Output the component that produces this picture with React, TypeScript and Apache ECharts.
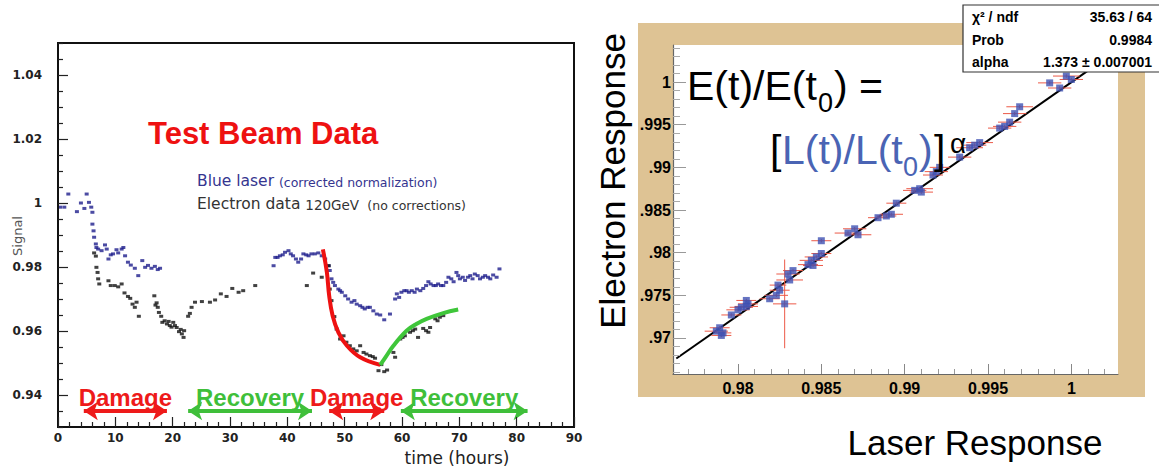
import React, { useEffect, useRef } from "react";
import * as echarts from "echarts";

// ---------- Left chart: test beam data ----------
const blueLaser: [number, number][] = [
  [0.35, 0.9987], [1.1, 0.9987], [1.8, 1.0028], [3.3, 0.9973], [4.0, 1.0], [4.6, 0.9983], [5.0, 1.0028],
  [5.4, 1.0002], [5.8, 0.9987], [6.0, 0.9971], [6.0, 0.9934], [6.2, 0.9913], [6.3, 0.9893], [6.6, 0.9872],
  [6.7, 0.9861], [7.0, 0.9856], [7.6, 0.9851], [8.2, 0.9869], [8.5, 0.9856], [8.8, 0.9825], [9.2, 0.9838],
  [9.6, 0.9841], [10.2, 0.9854], [10.5, 0.9844], [11.1, 0.9856], [11.4, 0.9861], [11.7, 0.9835],
  [12.2, 0.9815], [12.7, 0.9806], [13.4, 0.9796], [14.0, 0.9773], [14.7, 0.982], [15.2, 0.9799],
  [15.7, 0.9805], [16.3, 0.9796], [16.9, 0.9802], [17.4, 0.9792], [17.8, 0.9796],
  [37.6, 0.9804], [37.9, 0.983], [38.3, 0.983], [38.7, 0.9835], [39.2, 0.9838], [39.6, 0.9846],
  [40.2, 0.9851], [40.6, 0.9841], [41.0, 0.9835], [41.5, 0.9825], [41.9, 0.9815], [42.4, 0.9825],
  [42.8, 0.9841], [43.3, 0.9838], [43.7, 0.9835], [44.2, 0.9841], [44.8, 0.9841], [45.4, 0.9844],
  [46.0, 0.9835], [46.6, 0.9825], [47.2, 0.9804], [47.4, 0.9789], [47.7, 0.9763], [48.0, 0.9752],
  [48.3, 0.9742], [48.9, 0.9731], [49.2, 0.9726], [49.5, 0.9721], [50.1, 0.971], [50.6, 0.97],
  [51.2, 0.969], [51.7, 0.9695], [52.1, 0.9684], [52.7, 0.9679], [53.1, 0.9674], [53.5, 0.9669],
  [54.0, 0.9674], [54.4, 0.9674], [55.0, 0.9663], [55.6, 0.9653], [56.2, 0.965], [56.9, 0.9635],
  [57.9, 0.9653], [58.8, 0.97], [59.1, 0.9716], [59.5, 0.9705], [59.9, 0.9721], [60.4, 0.9726],
  [60.8, 0.9726], [61.2, 0.9721], [61.7, 0.9726], [62.2, 0.9721], [62.6, 0.9731], [63.2, 0.9726],
  [63.7, 0.9733], [64.2, 0.9742], [64.6, 0.9754], [65.0, 0.9747], [65.5, 0.9742], [65.9, 0.9742],
  [66.3, 0.9747], [66.8, 0.9742], [67.2, 0.9742], [67.7, 0.9752], [68.1, 0.9768], [68.6, 0.9763],
  [69.0, 0.9754], [69.5, 0.9783], [69.8, 0.9773], [70.1, 0.9763], [70.6, 0.9768], [71.0, 0.9758],
  [71.5, 0.9768], [71.9, 0.9773], [72.3, 0.9763], [72.7, 0.9778], [73.2, 0.9773], [73.6, 0.9763],
  [74.1, 0.9768], [74.5, 0.9773], [75.0, 0.9768], [75.4, 0.9763], [75.9, 0.9775], [76.5, 0.9768],
  [77.0, 0.9794],
];

const electronData: [number, number][] = [
  [6.3, 0.9844], [6.6, 0.9834], [6.7, 0.9799], [6.9, 0.9783], [7.0, 0.9763], [7.2, 0.9747], [8.8, 0.9757],
  [9.2, 0.9742], [9.9, 0.9742], [10.5, 0.9738], [11.1, 0.9747], [11.6, 0.9719], [12.2, 0.9708],
  [12.6, 0.9702], [13.0, 0.9684], [13.4, 0.9674], [13.7, 0.969], [14.1, 0.9646], [16.8, 0.971],
  [17.0, 0.9681], [17.2, 0.9688], [17.4, 0.9674], [17.6, 0.9658], [18.0, 0.9646], [18.2, 0.9627],
  [18.6, 0.9632], [19.0, 0.9622], [19.3, 0.963], [19.5, 0.9617], [19.8, 0.9612], [20.1, 0.9627],
  [20.4, 0.9617], [20.7, 0.9611], [21.1, 0.9598], [21.4, 0.9605], [21.6, 0.9591], [21.9, 0.958],
  [22.0, 0.9601], [22.7, 0.9646], [23.0, 0.9655], [23.3, 0.9674], [23.9, 0.969], [25.1, 0.9692],
  [26.5, 0.969], [27.4, 0.9697], [28.4, 0.9716], [29.4, 0.9708], [30.4, 0.9733], [31.5, 0.9721],
  [32.3, 0.9726], [34.4, 0.9742],
  [43.4, 0.9742], [44.5, 0.9781], [46.0, 0.9768], [47.2, 0.9804], [47.4, 0.9731], [47.7, 0.9695],
  [48.2, 0.9645], [48.6, 0.9606], [49.2, 0.9575], [49.8, 0.9585], [50.3, 0.9565], [50.9, 0.9554],
  [51.5, 0.9544], [52.1, 0.9538], [52.7, 0.9554], [53.3, 0.9533], [53.8, 0.9528], [54.4, 0.9523],
  [54.9, 0.952], [55.3, 0.9515], [55.9, 0.9476], [56.4, 0.9495], [56.9, 0.9473], [57.4, 0.9478],
  [58.5, 0.9533], [58.8, 0.9518], [59.7, 0.9575], [60.1, 0.958], [60.5, 0.9585], [61.4, 0.9596],
  [61.9, 0.9601], [62.3, 0.9606], [62.8, 0.958], [63.7, 0.9608], [64.2, 0.9601], [64.6, 0.9596],
  [64.9, 0.9611], [65.8, 0.9638], [66.2, 0.9632], [66.6, 0.9643], [67.2, 0.9648],
];

const damageFit: [number, number][] = [
  [46.2, 0.9855], [46.9, 0.9783], [47.3, 0.971], [47.9, 0.9648], [48.9, 0.9596], [50.4, 0.9554],
  [52.7, 0.9518], [56.2, 0.9494],
];
const recoveryFit: [number, number][] = [
  [56.2, 0.9494], [57.2, 0.952], [58.5, 0.9554], [60.8, 0.9601], [62.5, 0.9622], [64.3, 0.9638],
  [67.2, 0.9656], [69.8, 0.9667],
];

const phaseLabels = ["Damage", "Recovery", "Damage", "Recovery"];
const phaseStart = [4.5, 22.7, 47.3, 59.8];
const phaseEnd = [19.0, 44.3, 56.9, 81.9];
const phaseLevel = 0.935;

const leftXTicks = [0, 10, 20, 30, 40, 50, 60, 70, 80, 90];
const leftYTicks = [0.94, 0.96, 0.98, 1.0, 1.02, 1.04];

// ---------- Right chart: electron vs laser response ----------
const laserResp = [
  0.9787, 0.9789, 0.979, 0.9791, 0.9796, 0.98, 0.9802, 0.9805, 0.9805, 0.9806, 0.9819, 0.9823, 0.9825,
  0.9824, 0.9828, 0.983, 0.9831, 0.9833, 0.9842, 0.9844, 0.9845, 0.9847, 0.985, 0.985, 0.9866, 0.987,
  0.9872, 0.9884, 0.9889, 0.9892, 0.9895, 0.9906, 0.9909, 0.991, 0.9917, 0.9919, 0.9921, 0.9933,
  0.9939, 0.9942, 0.9945, 0.9957, 0.996, 0.9963, 0.9966, 0.9969, 0.9987, 0.9993, 0.9997, 1.0,
];
const electronResp = [
  0.9708, 0.9712, 0.9703, 0.9706, 0.9727, 0.9733, 0.9736, 0.9744, 0.9737, 0.974, 0.9746, 0.975, 0.9756,
  0.9762, 0.974, 0.9775, 0.9768, 0.9779, 0.9786, 0.9791, 0.9785, 0.9795, 0.9799, 0.9814, 0.9823, 0.9828,
  0.9821, 0.9841, 0.9843, 0.9845, 0.9858, 0.9873, 0.9875, 0.9871, 0.9891, 0.9895, 0.99, 0.9912, 0.9923,
  0.9926, 0.9929, 0.9946, 0.9948, 0.9953, 0.9963, 0.9971, 0.9999, 0.9993, 1.0007, 1.0003,
];
const laserErr = [
  0.0007, 0.0006, 0.0006, 0.0005, 0.0006, 0.0007, 0.0007, 0.0006, 0.0007, 0.0006, 0.0006, 0.0007, 0.0006,
  0.0005, 0.0007, 0.0007, 0.0008, 0.0006, 0.0006, 0.0007, 0.0006, 0.0007, 0.0006, 0.0006, 0.0008, 0.0007,
  0.0008, 0.0006, 0.0006, 0.0007, 0.0006, 0.0007, 0.0008, 0.0007, 0.0006, 0.0007, 0.0006, 0.0007, 0.0008,
  0.0007, 0.0008, 0.0007, 0.0007, 0.0007, 0.0007, 0.0008, 0.0007, 0.0007, 0.0008, 0.0007,
];
const electronErr = [
  0.0002, 0.0002, 0.0002, 0.0002, 0.0002, 0.0002, 0.0002, 0.0002, 0.0002, 0.0002, 0.0002, 0.0002, 0.0002,
  0.0002, 0.0052, 0.0002, 0.0002, 0.0002, 0.0002, 0.0002, 0.0002, 0.0002, 0.0002, 0.0002, 0.0002, 0.0002,
  0.0002, 0.0002, 0.0002, 0.0002, 0.0002, 0.0002, 0.0002, 0.0002, 0.0002, 0.0002, 0.0002, 0.0002, 0.0002,
  0.0002, 0.0002, 0.0002, 0.0002, 0.0002, 0.0002, 0.0002, 0.0002, 0.0002, 0.0002, 0.0002,
];
const fitLaser = [0.9763, 1.0028];
const fitElectron = [0.9676, 1.0038];

const rightXTicks = [0.98, 0.985, 0.99, 0.995, 1.0];
const rightYTicks = [0.97, 0.975, 0.98, 0.985, 0.99, 0.995, 1.0];

const statsLabels = ["χ² / ndf", "Prob", "alpha"];
const statsValues = ["35.63 / 64", "0.9984", "1.373 ± 0.007001"];

// ---------- helpers ----------
function minorValues(from: number, to: number, step: number, majorStep: number): number[] {
  const out: number[] = [];
  const n = Math.round((to - from) / step);
  for (let i = 0; i <= n; i++) {
    const v = +(from + i * step).toFixed(4);
    const r = v / majorStep;
    if (Math.abs(r - Math.round(r)) > 1e-6) out.push(v);
  }
  return out;
}

const LEFT = { left: 58, top: 43, width: 516, height: 384 };
const RIGHT = { left: 673, top: 45, width: 445, height: 329 };
const SANS = "'Liberation Sans', Arial, sans-serif";
const DEJA = "'DejaVu Sans', Verdana, sans-serif";

function buildOption(): any {
  const leftYMinor = minorValues(0.93, 1.05, 0.005, 0.02);
  const rightXMinor = minorValues(0.977, 1.002, 0.001, 0.005);
  const rightYMinor = minorValues(0.966, 1.004, 0.001, 0.005);

  const fmtNum = (v: number) => String(parseFloat(Number(v).toFixed(3)));
  const fmtRightY = (v: number) => {
    const s = fmtNum(v);
    return s.startsWith("0") ? s.slice(1) : s;
  };

  const hiddenAxisParts = {
    axisLine: { show: false },
    axisLabel: { show: false },
    splitLine: { show: false },
  };

  const graphics: any[] = [
    // right chart canvas colour + white pad
    { type: "rect", z: -5, shape: { x: 638, y: 23, width: 507, height: 374 }, style: { fill: "#dec394" } },
    { type: "rect", z: -4, shape: { x: RIGHT.left, y: RIGHT.top, width: RIGHT.width, height: RIGHT.height }, style: { fill: "#ffffff" } },
    // left chart texts
    {
      type: "text", z: 20, x: 148, y: 133,
      style: { text: "Test Beam Data", fill: "#ee1111", fontFamily: SANS, fontWeight: "bold", fontSize: 31, align: "left", verticalAlign: "middle" },
    },
    {
      type: "text", z: 20, x: 197, y: 179,
      style: {
        text: "{a|Blue laser }{b|(corrected normalization)}", align: "left", verticalAlign: "middle",
        rich: {
          a: { fill: "#35358f", fontFamily: DEJA, fontSize: 15.5, verticalAlign: "bottom", lineHeight: 20 },
          b: { fill: "#35358f", fontFamily: DEJA, fontSize: 12.5, verticalAlign: "bottom", lineHeight: 18 },
        },
      },
    },
    {
      type: "text", z: 20, x: 197, y: 202,
      style: {
        text: "{a|Electron data }{b|120GeV }{c| (no corrections)}", align: "left", verticalAlign: "middle",
        rich: {
          a: { fill: "#333", fontFamily: DEJA, fontSize: 15.5, verticalAlign: "bottom", lineHeight: 20 },
          b: { fill: "#333", fontFamily: DEJA, fontSize: 13.5, verticalAlign: "bottom", lineHeight: 19 },
          c: { fill: "#333", fontFamily: DEJA, fontSize: 12.5, verticalAlign: "bottom", lineHeight: 18 },
        },
      },
    },
    {
      type: "text", z: 20, x: 17, y: 236, rotation: Math.PI / 2,
      style: { text: "Signal", fill: "#555", fontFamily: DEJA, fontSize: 13, align: "center", verticalAlign: "middle" },
    },
    {
      type: "text", z: 20, x: 457, y: 458,
      style: { text: "time (hours)", fill: "#222", fontFamily: DEJA, fontSize: 17, align: "center", verticalAlign: "middle" },
    },
    // right chart titles
    {
      type: "text", z: 20, x: 612, y: 181, rotation: Math.PI / 2,
      style: { text: "Electron Response", fill: "#000", fontFamily: SANS, fontSize: 35, align: "center", verticalAlign: "middle" },
    },
    {
      type: "text", z: 20, x: 975, y: 442,
      style: { text: "Laser Response", fill: "#000", fontFamily: SANS, fontSize: 35, align: "center", verticalAlign: "middle" },
    },
    // formula line 1
    { type: "text", z: 20, x: 687, y: 86, style: { text: "E(t)/E(t", fill: "#000", fontFamily: SANS, fontSize: 41, align: "left", verticalAlign: "middle" } },
    { type: "text", z: 20, x: 818, y: 103, style: { text: "0", fill: "#000", fontFamily: SANS, fontSize: 27, align: "left", verticalAlign: "middle" } },
    { type: "text", z: 20, x: 834, y: 86, style: { text: ") =", fill: "#000", fontFamily: SANS, fontSize: 41, align: "left", verticalAlign: "middle" } },
    // formula line 2
    { type: "text", z: 20, x: 770, y: 150, style: { text: "[", fill: "#000", fontFamily: SANS, fontSize: 41, align: "left", verticalAlign: "middle" } },
    { type: "text", z: 20, x: 782, y: 150, style: { text: "L(t)/L(t", fill: "#4a64b4", fontFamily: SANS, fontSize: 41, align: "left", verticalAlign: "middle" } },
    { type: "text", z: 20, x: 903, y: 167, style: { text: "0", fill: "#4a64b4", fontFamily: SANS, fontSize: 27, align: "left", verticalAlign: "middle" } },
    { type: "text", z: 20, x: 919, y: 150, style: { text: ")", fill: "#4a64b4", fontFamily: SANS, fontSize: 41, align: "left", verticalAlign: "middle" } },
    { type: "text", z: 20, x: 934, y: 150, style: { text: "]", fill: "#000", fontFamily: SANS, fontSize: 41, align: "left", verticalAlign: "middle" } },
    { type: "text", z: 20, x: 950, y: 143, style: { text: "α", fill: "#000", fontFamily: SANS, fontSize: 28, align: "left", verticalAlign: "middle" } },
    // stats box
    { type: "rect", z: 30, shape: { x: 963, y: 5, width: 205, height: 67 }, style: { fill: "#fff", stroke: "#333", lineWidth: 1.2 } },
  ];
  statsLabels.forEach((lab, i) => {
    const y = 17 + i * 22.5;
    graphics.push({
      type: "text", z: 31, x: 972, y,
      style: { text: lab, fill: "#000", fontFamily: SANS, fontWeight: "bold", fontSize: 14, align: "left", verticalAlign: "middle" },
    });
    graphics.push({
      type: "text", z: 31, x: 1152, y,
      style: { text: statsValues[i], fill: "#000", fontFamily: SANS, fontWeight: "bold", fontSize: 14, align: "right", verticalAlign: "middle" },
    });
  });

  const phaseColors = ["#ee1a1a", "#3fbf3a", "#ee1a1a", "#3fbf3a"];

  return {
    animation: false,
    backgroundColor: "#fff",
    grid: [
      { ...LEFT, show: true, borderColor: "#111", borderWidth: 2, backgroundColor: "transparent", outerBoundsMode: "none", containLabel: false },
      { ...RIGHT, show: false, outerBoundsMode: "none", containLabel: false },
      { ...RIGHT, show: false, outerBoundsMode: "none", containLabel: false },
      { ...LEFT, show: false, outerBoundsMode: "none", containLabel: false },
    ],
    xAxis: [
      {
        gridIndex: 0, type: "value", min: 0, max: 90, interval: 10, z: 10,
        axisLine: { show: true, lineStyle: { color: "#111", width: 2 } },
        axisTick: { show: true, inside: true, length: 10, lineStyle: { color: "#222", width: 1.2 } },
        minorTick: { show: true, splitNumber: 5, length: 5, lineStyle: { color: "#222", width: 1.2 } },
        axisLabel: {
          customValues: leftXTicks, margin: 5, color: "#222", fontFamily: DEJA, fontWeight: "bold", fontSize: 12,
          formatter: (v: number) => fmtNum(v),
        },
        splitLine: { show: false },
        minorSplitLine: { show: false },
      },
      {
        gridIndex: 1, type: "value", min: 0.9761, max: 1.0028, z: 10,
        axisLine: { show: true, lineStyle: { color: "#666", width: 1.2 } },
        axisTick: { show: true, inside: true, length: 10, customValues: rightXTicks, lineStyle: { color: "#888" } },
        axisLabel: {
          customValues: rightXTicks, margin: 6, color: "#000", fontFamily: SANS, fontWeight: "bold", fontSize: 16,
          formatter: (v: number) => fmtNum(v),
        },
        splitLine: { show: false },
      },
      {
        gridIndex: 2, type: "value", min: 0.9761, max: 1.0028, z: 10,
        axisTick: { show: true, inside: true, length: 5, customValues: rightXMinor, lineStyle: { color: "#999" } },
        ...hiddenAxisParts,
      },
      { gridIndex: 3, type: "value", min: 0, max: 90, show: false },
    ],
    yAxis: [
      {
        gridIndex: 0, type: "value", min: 0.93, max: 1.05, z: 10,
        axisLine: { show: true, lineStyle: { color: "#111", width: 2 } },
        axisTick: { show: true, inside: true, length: 10, customValues: leftYTicks, lineStyle: { color: "#222", width: 1.2 } },
        axisLabel: {
          customValues: leftYTicks, margin: 16, color: "#222", fontFamily: DEJA, fontWeight: "bold", fontSize: 12,
          formatter: (v: number) => fmtNum(v),
        },
        splitLine: { show: false },
      },
      {
        gridIndex: 1, type: "value", min: 0.96578, max: 1.00434, z: 10,
        axisLine: { show: true, lineStyle: { color: "#666", width: 1.2 } },
        axisTick: { show: true, inside: true, length: 13, customValues: rightYTicks, lineStyle: { color: "#999" } },
        axisLabel: {
          customValues: rightYTicks, margin: 2, color: "#000", fontFamily: SANS, fontWeight: "bold", fontSize: 16,
          formatter: (v: number) => fmtRightY(v),
        },
        splitLine: { show: false },
      },
      {
        gridIndex: 2, type: "value", min: 0.96578, max: 1.00434, z: 10,
        axisTick: { show: true, inside: true, length: 7, customValues: rightYMinor, lineStyle: { color: "#aaa" } },
        ...hiddenAxisParts,
      },
      {
        gridIndex: 3, type: "value", min: 0.93, max: 1.05, z: 10,
        axisTick: { show: true, inside: true, length: 5, customValues: leftYMinor, lineStyle: { color: "#222", width: 1.2 } },
        ...hiddenAxisParts,
      },
    ],
    graphic: { elements: graphics },
    series: [
      {
        name: "Blue laser", type: "scatter", xAxisIndex: 0, yAxisIndex: 0, data: blueLaser,
        symbol: "rect", symbolSize: [4, 3], itemStyle: { color: "#1e1e8c" }, z: 3,
      },
      {
        name: "Electron data", type: "scatter", xAxisIndex: 0, yAxisIndex: 0, data: electronData,
        symbol: "rect", symbolSize: [4, 3], itemStyle: { color: "#111" }, z: 3,
      },
      {
        name: "Damage fit", type: "line", xAxisIndex: 0, yAxisIndex: 0, data: damageFit, smooth: 0.4,
        showSymbol: false, symbol: "none", lineStyle: { color: "#ee1111", width: 4 }, z: 4,
      },
      {
        name: "Recovery fit", type: "line", xAxisIndex: 0, yAxisIndex: 0, data: recoveryFit, smooth: 0.4,
        showSymbol: false, symbol: "none", lineStyle: { color: "#3fc63a", width: 4 }, z: 4,
      },
      {
        name: "Phases", type: "line", xAxisIndex: 0, yAxisIndex: 0, data: [], z: 5,
        markLine: {
          silent: true, animation: false, symbol: ["arrow", "arrow"], symbolSize: [14, 14],
          data: phaseLabels.map((lab, i) => [
            {
              coord: [phaseStart[i], phaseLevel],
              lineStyle: { color: phaseColors[i], width: 4, type: "solid" },
              itemStyle: { color: phaseColors[i] },
              label: {
                show: true, position: "insideMiddleTop", formatter: lab, distance: 2,
                color: phaseColors[i], fontFamily: SANS, fontWeight: "bold", fontSize: 24,
              },
            },
            { coord: [phaseEnd[i], phaseLevel] },
          ]),
        },
      },
      {
        name: "Fit", type: "line", xAxisIndex: 1, yAxisIndex: 1,
        data: [[fitLaser[0], fitElectron[0]], [fitLaser[1], fitElectron[1]]],
        showSymbol: false, symbol: "none", lineStyle: { color: "#000", width: 2 }, z: 3,
      },
      {
        name: "Errors", type: "custom", xAxisIndex: 1, yAxisIndex: 1, z: 4, clip: true,
        data: laserResp.map((x, i) => [x, electronResp[i], laserErr[i], electronErr[i]]),
        encode: { x: 0, y: 1 },
        renderItem: (_p: any, api: any) => {
          const x = api.value(0), y = api.value(1), ex = api.value(2), ey = api.value(3);
          const l = api.coord([x - ex, y]);
          const r = api.coord([x + ex, y]);
          const b = api.coord([x, y - ey]);
          const t = api.coord([x, y + ey]);
          const style = { stroke: "#ec5a48", lineWidth: 1 };
          return {
            type: "group",
            children: [
              { type: "line", shape: { x1: l[0], y1: l[1], x2: r[0], y2: r[1] }, style },
              { type: "line", shape: { x1: b[0], y1: b[1], x2: t[0], y2: t[1] }, style },
            ],
          };
        },
      },
      {
        name: "Electron vs laser", type: "scatter", xAxisIndex: 1, yAxisIndex: 1,
        data: laserResp.map((x, i) => [x, electronResp[i]]),
        symbol: "rect", symbolSize: 7, itemStyle: { color: "#3f51b3" }, z: 5,
      },
    ],
  };
}

export default function App() {
  const ref = useRef<HTMLDivElement>(null);
  useEffect(() => {
    if (!ref.current) return;
    const chart = echarts.init(ref.current, undefined, { renderer: "svg" });
    chart.setOption(buildOption());
    return () => chart.dispose();
  }, []);
  return (
    <div
      ref={ref}
      style={{ position: "fixed", left: 0, top: 0, width: 1159, height: 467, background: "#fff" }}
    />
  );
}
